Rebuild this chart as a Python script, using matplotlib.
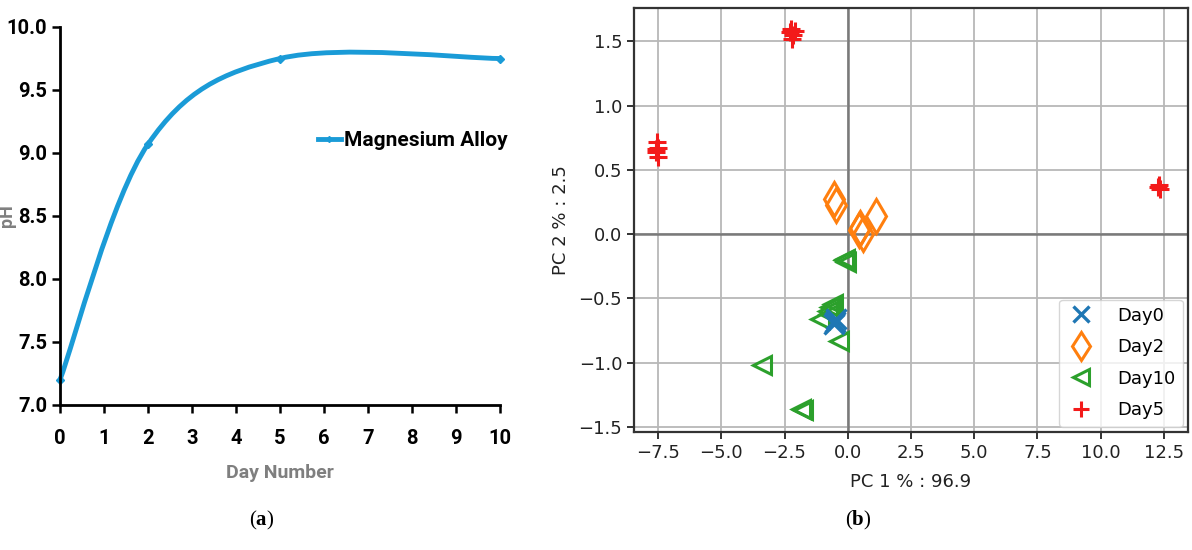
import numpy as np
import matplotlib
matplotlib.use("Agg")
import matplotlib.pyplot as plt
from matplotlib.path import Path
from matplotlib.patches import PathPatch
from matplotlib.lines import Line2D

# -------------------------------------------------
# Data
# -------------------------------------------------
# (a) pH over time
days = [0, 2, 5, 10]
ph = [7.2, 9.07, 9.75, 9.75]
x_ticks_a = list(range(0, 11))
y_ticks_a = [7.0, 7.5, 8.0, 8.5, 9.0, 9.5, 10.0]

# (b) PCA scores
day0_pc1 = [-0.5, -0.45, -0.55]
day0_pc2 = [-0.68, -0.66, -0.70]

day2_pc1 = [-0.55, -0.47, 0.45, 0.6, 0.5, 1.1]
day2_pc2 = [0.27, 0.23, 0.03, 0.0, 0.05, 0.14]

day10_pc1 = [-0.1, -0.05, -0.15, -0.7, -0.8, -0.6, -0.75, -1.1, -0.35, -3.4, -1.85, -1.75]
day10_pc2 = [-0.19, -0.22, -0.2, -0.57, -0.6, -0.54, -0.62, -0.66, -0.83, -1.02, -1.36, -1.37]

day5_pc1 = [-7.6, -7.5, -7.55, -7.5, -7.6,
            -2.3, -2.15, -2.2, -2.1, -2.25,
            12.25, 12.35, 12.3]
day5_pc2 = [0.64, 0.67, 0.72, 0.60, 0.66,
            1.57, 1.55, 1.52, 1.58, 1.60,
            0.37, 0.35, 0.38]

x_ticks_b = [-7.5, -5.0, -2.5, 0.0, 2.5, 5.0, 7.5, 10.0, 12.5]
y_ticks_b = [-1.5, -1.0, -0.5, 0.0, 0.5, 1.0, 1.5]

BLUE_A = "#1a9bd7"
COND = ["Roboto", "DejaVu Sans"]

plt.rcParams["mathtext.fontset"] = "custom"
plt.rcParams["mathtext.rm"] = "Liberation Serif"
plt.rcParams["mathtext.bf"] = "Liberation Serif:bold"


def smooth_path(xs, ys):
    """Excel-like smoothed line as cubic Bezier segments."""
    pts = np.column_stack([xs, ys]).astype(float)
    n = len(pts)
    verts = [pts[0]]
    codes = [Path.MOVETO]
    for i in range(n - 1):
        p0 = pts[max(i - 1, 0)]
        p1 = pts[i]
        p2 = pts[i + 1]
        p3 = pts[min(i + 2, n - 1)]
        c1 = p1 + (p2 - p0) / 6.0
        c2 = p2 - (p3 - p1) / 6.0
        verts += [c1, c2, p2]
        codes += [Path.CURVE4] * 3
    return Path(verts, codes)


fig = plt.figure(figsize=(11.92, 5.5), dpi=100)

# -------------------------------------------------
# Panel (a)
# -------------------------------------------------
ax1 = fig.add_axes([60 / 1192, 1 - 405 / 550, 440 / 1192, 378 / 550])
patch = PathPatch(smooth_path(days, ph), facecolor="none", edgecolor=BLUE_A,
                  lw=3.5, capstyle="round", clip_on=False)
ax1.add_patch(patch)
ax1.plot(days, ph, linestyle="none", marker="D", ms=4, color=BLUE_A, clip_on=False)
ax1.set_xlim(0, 10)
ax1.set_ylim(7.0, 10.0)
tick_font = {"family": COND, "fontweight": "bold", "fontsize": 14.5}
ax1.set_xticks(x_ticks_a, labels=[str(v) for v in x_ticks_a], **tick_font)
ax1.set_yticks(y_ticks_a, labels=[f"{v:.1f}" for v in y_ticks_a], **tick_font)
for s in ["top", "right"]:
    ax1.spines[s].set_visible(False)
for s in ["left", "bottom"]:
    ax1.spines[s].set_linewidth(2)
ax1.tick_params(direction="out", length=6, width=1.8, color="black")
ax1.tick_params(axis="x", pad=11)
ax1.tick_params(axis="y", pad=3)
ax1.set_xlabel("Day Number", family=COND, fontweight="bold", fontsize=14,
               color="#7f7f7f", labelpad=12)
ax1.set_ylabel("pH", family=COND, fontweight="bold", fontsize=13,
               color="#7f7f7f")
ax1.yaxis.set_label_coords(-44 / 440, 0.5)
handle = Line2D([], [], color=BLUE_A, lw=3.5, marker="D", ms=3)
leg1 = ax1.legend([handle], ["Magnesium Alloy"], loc="center left",
                  bbox_to_anchor=((318 - 60) / 440, (405 - 141) / 378),
                  frameon=False, borderpad=0, borderaxespad=0,
                  handlelength=1.1, handletextpad=0.15,
                  prop={"family": COND, "weight": "bold", "size": 15})

# -------------------------------------------------
# Panel (b)
# -------------------------------------------------
ax2 = fig.add_axes([634 / 1192, 1 - 432 / 550, 554 / 1192, 424 / 550])
ax2.grid(True, color="#b8b8b8", lw=1.3)
ax2.set_axisbelow(True)
ax2.axhline(0, color="#7a7a7a", lw=1.8, zorder=1)
ax2.axvline(0, color="#7a7a7a", lw=1.8, zorder=1)

ax2.plot(day0_pc1, day0_pc2, linestyle="none", marker="x", ms=14, mew=2.4,
         color="#1f77b4", label="Day0", zorder=5)
ax2.plot(day2_pc1, day2_pc2, linestyle="none", marker="d", ms=17, mew=2.2,
         mfc="none", color="#ff7f0e", label="Day2", zorder=3)
ax2.plot(day10_pc1, day10_pc2, linestyle="none", marker="<", ms=13, mew=2.2,
         mfc="none", color="#2ca02c", label="Day10", zorder=4)
ax2.plot(day5_pc1, day5_pc2, linestyle="none", marker="+", ms=13, mew=2.2,
         color="#f31a1a", label="Day5", zorder=3)

ax2.set_xlim(-8.45, 13.45)
ax2.set_ylim(-1.54, 1.76)
ax2.set_xticks(x_ticks_b)
ax2.set_yticks(y_ticks_b)
ax2.tick_params(labelsize=13, length=5, width=1.3, colors="#222222")
for s in ax2.spines.values():
    s.set_linewidth(1.6)
    s.set_color("#333333")
ax2.set_xlabel("PC 1 % : 96.9", fontsize=13, color="#222222", labelpad=8)
ax2.set_ylabel("PC 2 % : 2.5", fontsize=13, color="#222222", labelpad=6)
ax2.legend(loc="lower right", fontsize=13, borderaxespad=0.3,
           handlelength=1.6, handletextpad=1.2, labelspacing=0.75,
           markerscale=0.85)

# -------------------------------------------------
# Captions
# -------------------------------------------------
fig.text(262 / 1192, 1 - 520 / 550, r"($\mathbf{a}$)", ha="center", va="center",
         family="Liberation Serif", fontsize=15)
fig.text(858 / 1192, 1 - 520 / 550, r"($\mathbf{b}$)", ha="center", va="center",
         family="Liberation Serif", fontsize=15)

fig.savefig("out.png", dpi=100)
